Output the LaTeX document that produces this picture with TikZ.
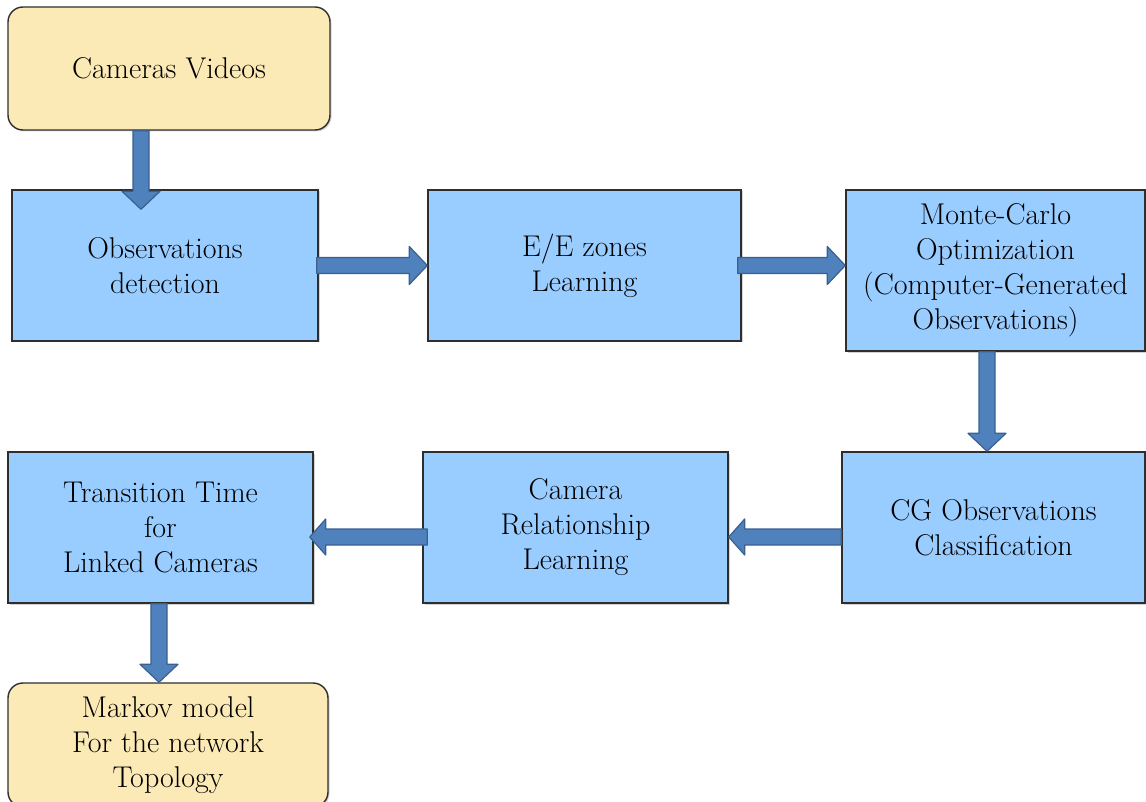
\documentclass[tikz,border=0pt]{standalone}
\usepackage{fontspec}
\usetikzlibrary{calc,shadows}
\definecolor{boxblue}{HTML}{99CCFF}
\definecolor{boxyellow}{HTML}{FCEAB6}
\definecolor{boxline}{HTML}{2E2E2E}
\definecolor{arrowfill}{HTML}{4F81BD}
\definecolor{arrowline}{HTML}{3A6090}
\tikzset{
  boxbase/.style={draw=boxline, line width=1.4pt, align=center, inner sep=0pt,
    font=\rmfamily\fontsize{30pt}{35pt}\selectfont,
    drop shadow={opacity=0.35, shadow xshift=1.5pt, shadow yshift=-1.5pt}},
  bluebox/.style={boxbase, fill=boxblue, rectangle},
  yellowbox/.style={boxbase, fill=boxyellow, rectangle, rounded corners=15pt},
  arrowbase/.style={draw=arrowline, fill=arrowfill, line width=1.2pt, line join=round},
  barrowD/.style={arrowbase, to path={let \p1=(\tikztostart), \p2=(\tikztotarget) in
    (\x1-8pt,\y1) -- (\x1-8pt,\y2+18pt) -- (\x1-19pt,\y2+18pt) -- (\x1,\y2)
    -- (\x1+19pt,\y2+18pt) -- (\x1+8pt,\y2+18pt) -- (\x1+8pt,\y1) -- cycle}},
  barrowR/.style={arrowbase, to path={let \p1=(\tikztostart), \p2=(\tikztotarget) in
    (\x1,\y1+8pt) -- (\x2-18pt,\y1+8pt) -- (\x2-18pt,\y1+19pt) -- (\x2,\y1)
    -- (\x2-18pt,\y1-19pt) -- (\x2-18pt,\y1-8pt) -- (\x1,\y1-8pt) -- cycle}},
  barrowL/.style={arrowbase, to path={let \p1=(\tikztostart), \p2=(\tikztotarget) in
    (\x1,\y1+8pt) -- (\x2+16pt,\y1+8pt) -- (\x2+16pt,\y1+18pt) -- (\x2,\y1)
    -- (\x2+16pt,\y1-18pt) -- (\x2+16pt,\y1-8pt) -- (\x1,\y1-8pt) -- cycle}},
}
\begin{document}
\begin{tikzpicture}[x=1pt,y=-1pt]
\useasboundingbox (0,0) rectangle (1146,802);
\clip (0,0) rectangle (1146,802);

\node[yellowbox, minimum width=322pt, minimum height=123pt] (cam) at (169,68.5) {Cameras Videos};
\node[bluebox, minimum width=306pt, minimum height=151pt] (obs) at (165,265.5) {Observations\\detection};
\node[bluebox, minimum width=313pt, minimum height=151pt] (ee) at (584.5,265.5) {E/E zones\\Learning};
\node[bluebox, minimum width=299pt, minimum height=161pt] (mc) at (995.5,270.5) {Monte-Carlo\\Optimization\\(Computer-Generated\\Observations)};
\node[bluebox, minimum width=303pt, minimum height=151pt] (cg) at (993.5,527.5) {CG Observations\\Classification};
\node[bluebox, minimum width=305pt, minimum height=151pt] (cr) at (575.5,527.5) {Camera\\Relationship\\Learning};
\node[bluebox, minimum width=305pt, minimum height=151pt] (tt) at (160.5,527.5) {Transition Time\\for\\Linked Cameras};
\node[yellowbox, minimum width=320pt, minimum height=124pt] (mk) at (168,745) {Markov model\\For the network\\Topology};

\draw[barrowD] ([xshift=-28pt]cam.south) to ([yshift=-20pt]obs.north);
\draw[barrowR] ([xshift=-2pt]obs.east) to (ee.west);
\draw[barrowR] ([xshift=-4pt]ee.east) to (mc.west);
\draw[barrowD] ([xshift=-8.5pt]mc.south) to (cg.north);
\draw[barrowL] ([yshift=-9.5pt]cg.west) to (cr.east);
\draw[barrowL] ([yshift=-9.5pt,xshift=5pt]cr.west) to ([xshift=-4pt]tt.east);
\draw[barrowD] ([xshift=-1.5pt]tt.south) to (mk.north);
\end{tikzpicture}
\end{document}
